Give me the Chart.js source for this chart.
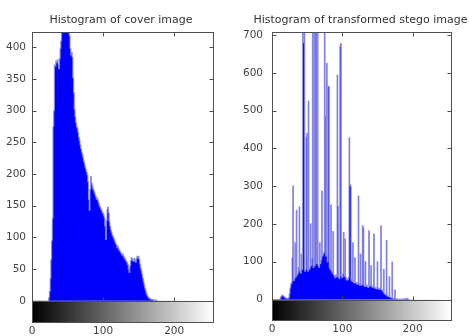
<!DOCTYPE html>
<html><head><meta charset="utf-8">
<script src="https://cdn.jsdelivr.net/npm/chart.js@4.4.0/dist/chart.umd.min.js"></script>
<style>
html,body{margin:0;padding:0;background:#fff;}
#wrap{position:relative;width:469px;height:336px;overflow:hidden;background:#fff;}
canvas{position:absolute;top:0;}
.ttl{position:absolute;top:13px;font-family:"DejaVu Sans";font-size:11px;line-height:13px;color:#333;white-space:nowrap;transform:translateX(-50%);}
</style></head><body>
<div id="wrap">
<canvas id="c1" width="234" height="336" style="left:0"></canvas>
<canvas id="c2" width="235" height="336" style="left:234px"></canvas>
<div class="ttl" style="left:121px">Histogram of cover image</div>
<div class="ttl" style="left:360.5px">Histogram of transformed stego image</div>
</div>
<script>
// gray levels (histogram bins)
const grayLevels = Array.from({length: 256}, (_, i) => i);

// pixel counts per gray level, cover image
const coverCounts = [
  0,0,0,0,0,0,0,0,0,0,0,0,0,0,0,0,
  0,0,0,0,0,0,0,0,5,15,35,65,95,130,275,300,
  372,370,378,376,380,374,366,382,398,410,428,440,455,448,465,452,
  470,458,446,452,436,418,398,388,392,384,352,328,302,290,281,275,
  272,266,258,253,246,240,235,231,226,220,216,211,207,203,199,188,
  160,143,176,196,186,182,177,174,171,167,164,160,162,158,154,150,
  148,145,143,140,138,135,131,118,97,127,144,148,139,125,118,112,
  108,104,102,99,96,93,90,88,84,86,82,80,78,76,74,72,
  74,70,68,66,64,62,60,57,50,45,55,63,68,66,64,62,
  67,64,61,66,70,68,70,65,58,52,47,42,36,30,25,20,
  16,12,9,7,5,4,3,3,2,2,2,1,1,1,1,1,
  0,0,0,0,0,0,0,0,0,0,0,0,0,0,0,0,
  0,0,0,0,0,0,0,0,0,0,0,0,0,0,0,0,
  0,0,0,0,0,0,0,0,0,0,0,0,0,0,0,0,
  0,0,0,0,0,0,0,0,0,0,0,0,0,0,0,0,
  0,0,0,0,0,0,0,0,0,0,0,0,0,0,0,0
];

// pixel counts per gray level, transformed stego image
const stegoCounts = [
  0,0,0,0,0,0,0,0,0,0,0,0,4,8,10,12,
  10,8,6,5,4,3,2,3,5,15,30,40,45,110,300,50,
  55,150,60,236,65,70,85,245,75,70,120,80,760,680,720,75,
  80,430,440,75,525,80,85,200,90,110,740,85,760,90,750,720,
  95,760,90,85,150,95,105,287,115,120,125,760,486,115,625,100,
  564,564,85,80,250,75,70,180,65,62,58,65,60,594,247,58,
  55,670,677,62,58,68,178,62,160,58,52,55,52,58,428,304,
  300,52,48,150,46,44,110,44,42,45,40,274,44,38,120,38,
  40,195,190,38,35,100,35,38,34,32,182,35,38,90,35,32,
  35,173,30,30,32,28,100,30,28,27,30,195,26,24,20,80,
  15,14,12,156,10,9,8,60,6,5,5,99,4,3,3,25,
  2,2,1,1,1,1,1,1,1,1,1,1,2,2,2,2,
  3,2,1,0,0,0,0,0,0,0,0,0,0,0,0,0,
  0,0,0,0,0,0,0,0,0,0,0,0,0,0,0,0,
  0,0,0,0,0,0,0,0,0,0,0,0,0,0,0,0,
  0,0,0,0,0,0,0,0,0,0,0,0,0,0,0,0
];

// tick labels
const xTicks = [0, 100, 200];
const coverYTicks = [0, 50, 100, 150, 200, 250, 300, 350, 400];
const stegoYTicks = [0, 100, 200, 300, 400, 500, 600, 700];

const frame = {
  id: 'frame',
  beforeDatasetsDraw(chart) {
    const {ctx, chartArea: a, scales: {x, y}} = chart;
    const y0 = y.getPixelForValue(0);
    const g = ctx.createLinearGradient(x.getPixelForValue(0), 0, x.getPixelForValue(255), 0);
    g.addColorStop(0, '#000000');
    g.addColorStop(1, '#ffffff');
    ctx.save();
    ctx.fillStyle = g;
    ctx.fillRect(a.left, y0, a.right - a.left, a.bottom - y0);
    ctx.restore();
  },
  afterDatasetsDraw(chart) {
    const {ctx, chartArea: a, scales: {x, y}} = chart;
    const L = Math.round(a.left) + 0.5, R = Math.round(a.right) - 0.5;
    const T = Math.round(a.top) + 0.5, B = Math.round(a.bottom) - 0.5;
    const y0 = Math.round(y.getPixelForValue(0)) + 0.5;
    ctx.save();
    ctx.strokeStyle = '#505050';
    ctx.lineWidth = 1;
    ctx.strokeRect(L, T, R - L, B - T);
    ctx.beginPath();
    ctx.moveTo(L, y0); ctx.lineTo(R, y0);
    y.ticks.forEach(t => {
      const py = Math.round(y.getPixelForValue(t.value)) + 0.5;
      ctx.moveTo(L, py); ctx.lineTo(L + 4, py);
      ctx.moveTo(R, py); ctx.lineTo(R - 4, py);
    });
    x.ticks.forEach(t => {
      if (t.value === 0) return;
      const px = Math.round(x.getPixelForValue(t.value)) + 0.5;
      ctx.moveTo(px, T); ctx.lineTo(px, T + 4);
      ctx.moveTo(px, y0); ctx.lineTo(px, y0 - 4);
    });
    ctx.stroke();
    ctx.restore();
  }
};

function makeChart(id, counts, yMin, yMax, yTicks, yWidth, padRight, yPad) {
  return new Chart(document.getElementById(id), {
    type: 'line',
    data: {
      datasets: [{
        data: grayLevels.map((g, i) => ({x: g, y: counts[i]})),
        stepped: 'middle',
        fill: 'origin',
        backgroundColor: '#0000ff',
        borderColor: 'rgba(140,140,222,0.8)',
        borderWidth: 1.2,
        pointRadius: 0,
        segment: {
          borderColor: c => (c.p0.parsed.y === 0 && c.p1.parsed.y === 0) ? 'rgba(0,0,0,0)' : undefined
        }
      }]
    },
    options: {
      responsive: false,
      animation: false,
      devicePixelRatio: 1,
      layout: {padding: {top: 32, right: padRight, left: 0, bottom: 0}},
      plugins: {legend: {display: false}, tooltip: {enabled: false}},
      scales: {
        x: {
          type: 'linear', min: 0, max: 256,
          grid: {display: false, drawTicks: false},
          border: {display: false},
          afterBuildTicks: s => { s.ticks = xTicks.map(v => ({value: v})); },
          afterFit: s => { s.height = 13; },
          ticks: {font: {family: 'DejaVu Sans', size: 10.5}, color: '#444', padding: 2, maxRotation: 0, autoSkip: false}
        },
        y: {
          type: 'linear', min: yMin, max: yMax,
          grid: {display: false, drawTicks: false},
          border: {display: false},
          afterBuildTicks: s => { s.ticks = yTicks.map(v => ({value: v})); },
          afterFit: s => { s.width = yWidth; },
          ticks: {font: {family: 'DejaVu Sans', size: 10.5}, color: '#444', padding: yPad, autoSkip: false}
        }
      }
    },
    plugins: [frame]
  });
}

makeChart('c1', coverCounts, -35, 424, coverYTicks, 32, 20, 6);
makeChart('c2', stegoCounts, -56, 708, stegoYTicks, 38, 17, 9);
</script>
</body></html>
